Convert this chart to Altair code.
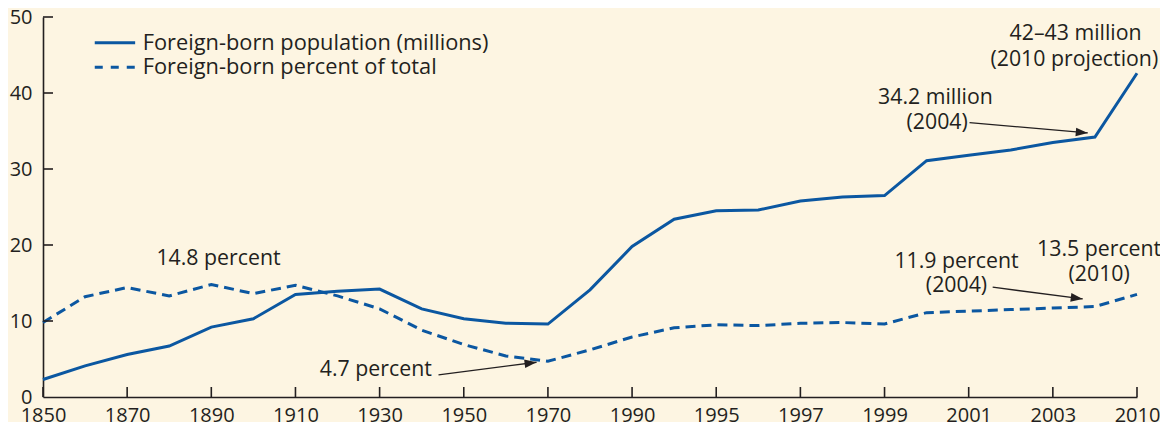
import json
import math
import altair as alt
import pandas as pd

# ---- data ----
years = ["1850", "1860", "1870", "1880", "1890", "1900", "1910", "1920", "1930",
         "1940", "1950", "1960", "1970", "1980", "1990", "1994", "1995", "1996",
         "1997", "1998", "1999", "2000", "2001", "2002", "2003", "2004", "2010"]
population = [2.3, 4.1, 5.6, 6.7, 9.2, 10.3, 13.5, 13.9, 14.2, 11.6, 10.3, 9.7, 9.6,
              14.1, 19.8, 23.4, 24.5, 24.6, 25.8, 26.3, 26.5, 31.1, 31.8, 32.5, 33.5,
              34.2, 42.6]
percent = [9.8, 13.2, 14.4, 13.3, 14.8, 13.6, 14.7, 13.3, 11.6, 8.8, 6.9, 5.4, 4.7,
           6.2, 7.9, 9.1, 9.5, 9.4, 9.7, 9.8, 9.6, 11.1, 11.3, 11.5, 11.7, 11.9, 13.5]
y_ticks = [0, 10, 20, 30, 40, 50]
x_tick_idx = list(range(0, 27, 2))

legend_labels = ["Foreign-born population (millions)", "Foreign-born percent of total"]

# annotations (position in data units: index along x, value along y)
notes_text = ["14.8 percent", "4.7 percent", "34.2 million", "(2004)",
              "42\u201343 million", "(2010 projection)", "11.9 percent", "(2004)",
              "13.5 percent", "(2010)"]
notes_i = [4.17, 7.91, 21.21, 21.25, 24.54, 24.51, 21.71, 21.71, 25.1, 25.1]
notes_v = [18.2, 3.6, 39.3, 36.0, 47.8, 44.4, 17.8, 14.6, 19.35, 16.05]

arrow_i = [9.40, 22.02, 22.57]
arrow_v = [2.9, 36.1, 14.45]
arrow_i2 = [11.73, 24.83, 24.71]
arrow_v2 = [4.57, 34.74, 12.9]

# ---- styling ----
W, H = 1094, 380
BG = "#FDF5E2"
BLUE = "#0B57A1"
INK = "#231F20"
FONT = "Open Sans"

N = len(years)
df = pd.DataFrame({"i": list(range(N)), "year": years, "pop": population, "pct": percent})

xs = alt.Scale(domain=[0, N - 1], nice=False, zero=False)
ys = alt.Scale(domain=[0, 50], nice=False)

label_expr = json.dumps(years) + "[datum.value]"

x_axis = alt.Axis(values=x_tick_idx, labelExpr=label_expr, title=None, grid=False,
                  tickSize=0, labelPadding=8, labelFont=FONT, labelFontSize=20,
                  labelColor=INK, domainColor=INK, domainWidth=1.6, labelFlush=False)
y_axis = alt.Axis(values=y_ticks, title=None, grid=False, tickSize=0, labelPadding=11,
                  labelFont=FONT, labelFontSize=20, labelColor=INK, domainColor=INK,
                  domainWidth=1.6)

base = alt.Chart(df)
pop_line = base.mark_line(color=BLUE, strokeWidth=3).encode(
    x=alt.X("i:Q", scale=xs, axis=x_axis),
    y=alt.Y("pop:Q", scale=ys, axis=y_axis),
)
pct_line = base.mark_line(color=BLUE, strokeWidth=3, strokeDash=[10, 6]).encode(
    x=alt.X("i:Q", scale=xs),
    y=alt.Y("pct:Q", scale=ys),
)

# inward tick marks
yt = alt.Chart(pd.DataFrame({"v": y_ticks[1:]})).mark_rule(color=INK, strokeWidth=1.6).encode(
    y=alt.Y("v:Q", scale=ys), x=alt.value(0), x2=alt.value(10))
xt = alt.Chart(pd.DataFrame({"i": x_tick_idx})).mark_rule(color=INK, strokeWidth=1.6).encode(
    x=alt.X("i:Q", scale=xs), y=alt.value(H), y2=alt.value(H - 10))

# legend (manual)
leg_df = pd.DataFrame({"i": [1.23], "i2": [2.19], "v1": [46.6], "v2": [43.4]})
leg_solid = alt.Chart(leg_df).mark_rule(color=BLUE, strokeWidth=3).encode(
    x=alt.X("i:Q", scale=xs), x2="i2:Q", y=alt.Y("v1:Q", scale=ys))
leg_dash = alt.Chart(leg_df).mark_rule(color=BLUE, strokeWidth=3, strokeDash=[8, 8]).encode(
    x=alt.X("i:Q", scale=xs), x2="i2:Q", y=alt.Y("v2:Q", scale=ys))
leg_text = alt.Chart(pd.DataFrame({"t": legend_labels, "i": [2.37, 2.37], "v": [46.6, 43.4]})).mark_text(
    align="left", baseline="middle", font=FONT, fontSize=21.8, color=INK).encode(
    x=alt.X("i:Q", scale=xs), y=alt.Y("v:Q", scale=ys), text="t:N")

# annotation text
notes = alt.Chart(pd.DataFrame({"t": notes_text, "i": notes_i, "v": notes_v})).mark_text(
    align="center", baseline="middle", font=FONT, fontSize=21.3, color=INK).encode(
    x=alt.X("i:Q", scale=xs), y=alt.Y("v:Q", scale=ys), text="t:N")

# arrows
px_i = W / (N - 1)
px_v = H / 50.0
angles = []
for a, b, c, d in zip(arrow_i, arrow_v, arrow_i2, arrow_v2):
    dx = (c - a) * px_i
    dy = -(d - b) * px_v
    angles.append(math.degrees(math.atan2(dx, -dy)) % 360)
arr_df = pd.DataFrame({"i": arrow_i, "v": arrow_v, "i2": arrow_i2, "v2": arrow_v2, "ang": angles})
arr_line = alt.Chart(arr_df).mark_rule(color=INK, strokeWidth=1.3).encode(
    x=alt.X("i:Q", scale=xs), y=alt.Y("v:Q", scale=ys), x2="i2:Q", y2="v2:Q")
arr_head = alt.Chart(arr_df).mark_point(
    shape="M0,0L-0.36,1L0.36,1Z", filled=True, color=INK, opacity=1, size=576, strokeWidth=0).encode(
    x=alt.X("i2:Q", scale=xs), y=alt.Y("v2:Q", scale=ys), angle=alt.Angle("ang:Q", scale=None))

chart = alt.layer(pop_line, pct_line, yt, xt, leg_solid, leg_dash, leg_text, notes,
                  arr_line, arr_head).properties(
    width=W, height=H,
    autosize=alt.AutoSizeParams(type="none"),
    padding={"left": 35, "top": 9, "right": 23, "bottom": 25},
    background=BG,
).configure_view(stroke=None)

chart.save("out.html", embed_options={"renderer": "svg", "actions": False})
